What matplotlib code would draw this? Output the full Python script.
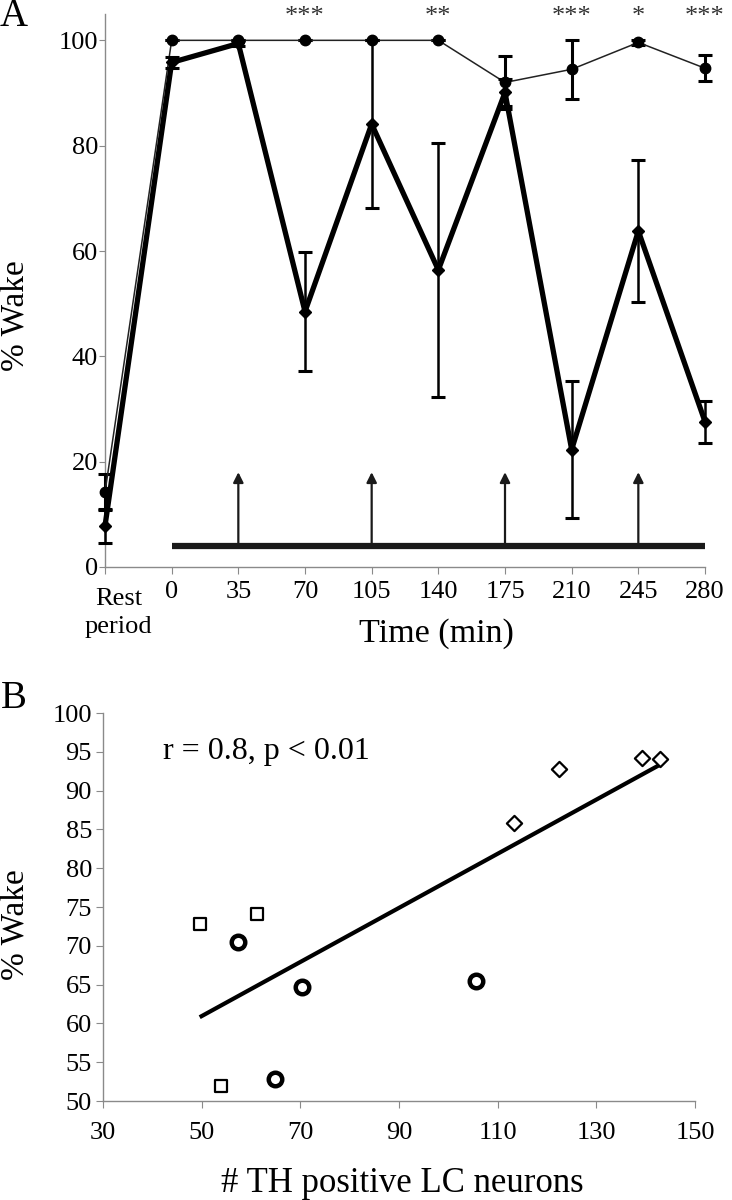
import numpy as np
import matplotlib.pyplot as plt

plt.rcParams['font.family'] = ['Liberation Serif', 'DejaVu Serif']

# Panel A: % wake over time
time_labels = ['0', '35', '70', '105', '140', '175', '210', '245', '280']
rest_label = 'Rest\nperiod'
ctrl_mean = [14.2, 100, 100, 100, 100, 100, 92.0, 94.5, 99.6, 94.7]
ctrl_err = [3.4, 0, 0, 0, 0, 0, 5.0, 5.6, 0.4, 2.5]
treat_mean = [7.8, 95.8, 99.4, 48.5, 84.1, 56.4, 90.1, 22.3, 63.8, 27.6]
treat_err = [3.2, 1.0, 0.4, 11.3, 16.0, 24.2, 2.6, 13.0, 13.5, 4.0]
stars = ['', '', '', '***', '', '**', '', '***', '*', '***']
arrow_times = [35, 105, 175, 245]
bar_times = [0, 280]
bar_level = 4
arrow_top = 18

# Panel B: correlation
sq_x = [49.7, 61.2, 53.9]
sq_y = [72.8, 74.1, 51.9]
ci_x = [57.4, 70.3, 64.8, 105.6]
ci_y = [70.5, 64.7, 52.8, 65.4]
di_x = [113.4, 122.5, 139.3, 143.0]
di_y = [85.8, 92.8, 94.2, 94.1]
fit_x = [49.6, 142.8]
fit_y = [60.8, 93.3]


def tpos(t):
    # rest period sits at 0, then one slot per 35 min
    return 1 + np.asarray(t) / 35.0


fig = plt.figure(figsize=(7.32, 12), dpi=100)
spine_c = '#8a8a8a'

# ---------- A ----------
ax = fig.add_axes([105 / 732, 1 - 567 / 1200, 600 / 732, 553 / 1200])
x = np.arange(len(ctrl_mean))

eb = ax.errorbar(x, ctrl_mean, yerr=ctrl_err, fmt='none', ecolor='black',
                 elinewidth=2.2, capsize=5, capthick=2.2, zorder=3)
for art in eb.lines[1] + eb.lines[2]:
    art.set_clip_on(False)
ax.plot(x, ctrl_mean, color='#222222', lw=1.1, marker='o', ms=7.5,
        mfc='black', mec='black', zorder=4, clip_on=False)
eb = ax.errorbar(x, treat_mean, yerr=treat_err, fmt='none', ecolor='black',
                 elinewidth=1.8, capsize=5, capthick=2.2, zorder=5)
for art in eb.lines[1] + eb.lines[2]:
    art.set_clip_on(False)
ax.plot(x, treat_mean, color='black', lw=3.8, marker='D', ms=6.5,
        mfc='black', mec='black', zorder=6, clip_on=False)

ax.plot(tpos(bar_times), [bar_level, bar_level], color='#1a1a1a', lw=4.5,
        solid_capstyle='butt', zorder=2)
for t in arrow_times:
    ax.annotate('', xy=(tpos(t), arrow_top), xytext=(tpos(t), bar_level),
                arrowprops=dict(arrowstyle='-|>', color='#1a1a1a', lw=1.6,
                                mutation_scale=15, shrinkA=0, shrinkB=0))

for xi, s in zip(x, stars):
    if s:
        ax.text(xi, 0.984, s, transform=ax.get_xaxis_transform(),
                ha='center', va='baseline', fontsize=19, color='#333333',
                clip_on=False)

ax.set_xlim(0, 9)
ax.set_ylim(0, 105)
ax.set_xticks(x)
ax.set_xticklabels([''] + time_labels, fontsize=19)
ax.set_yticks([0, 20, 40, 60, 80, 100])
ax.tick_params(axis='y', labelsize=19, length=4, pad=1, color=spine_c)
ax.tick_params(axis='x', length=5, pad=5, color=spine_c)
for side in ['top', 'right']:
    ax.spines[side].set_visible(False)
for side in ['left', 'bottom']:
    ax.spines[side].set_color(spine_c)
    ax.spines[side].set_linewidth(1.0)

ax.text(0.2, -0.038, rest_label, transform=ax.get_xaxis_transform(),
        ha='center', va='top', fontsize=19, linespacing=1.35)
fig.text(436 / 732, 1 - 634 / 1200, 'Time (min)', ha='center', va='center',
         fontsize=24.5)
fig.text(1 / 732, 1 - 316 / 1200, '% Wake', rotation=90, ha='left',
         va='center', fontsize=24)
fig.text(14 / 732, 1 - 17 / 1200, 'A', ha='center', va='center', fontsize=28)

# ---------- B ----------
bx = fig.add_axes([103 / 732, 1 - 1101 / 1200, 592 / 732, 388 / 1200])
bx.plot(fit_x, fit_y, color='black', lw=3, solid_capstyle='butt', zorder=2)
bx.scatter(sq_x, sq_y, marker='s', s=85, facecolors='white',
           edgecolors='black', linewidths=1.6, zorder=3)
bx.scatter(ci_x, ci_y, marker='o', s=95, facecolors='white',
           edgecolors='black', linewidths=3.2, zorder=3)
bx.scatter(di_x, di_y, marker='D', s=60, facecolors='white',
           edgecolors='black', linewidths=1.6, zorder=3)

bx.text(42.2, 95, 'r = 0.8, p < 0.01', ha='left', va='center', fontsize=23)

bx.set_xlim(30, 150)
bx.set_ylim(50, 100)
bx.set_xticks(np.arange(30, 151, 20))
bx.set_yticks(np.arange(50, 101, 5))
bx.tick_params(axis='both', labelsize=19, length=5, color=spine_c)
bx.tick_params(axis='x', pad=10)
bx.tick_params(axis='y', pad=3)
for side in ['top', 'right']:
    bx.spines[side].set_visible(False)
for side in ['left', 'bottom']:
    bx.spines[side].set_color(spine_c)
    bx.spines[side].set_linewidth(1.0)

fig.text(402 / 732, 1 - 1183 / 1200, '# TH positive LC neurons',
         ha='center', va='center', fontsize=25)
fig.text(1 / 732, 1 - 925 / 1200, '% Wake', rotation=90, ha='left',
         va='center', fontsize=24)
fig.text(14 / 732, 1 - 698 / 1200, 'B', ha='center', va='center', fontsize=28)

fig.savefig('out.png', dpi=100)
